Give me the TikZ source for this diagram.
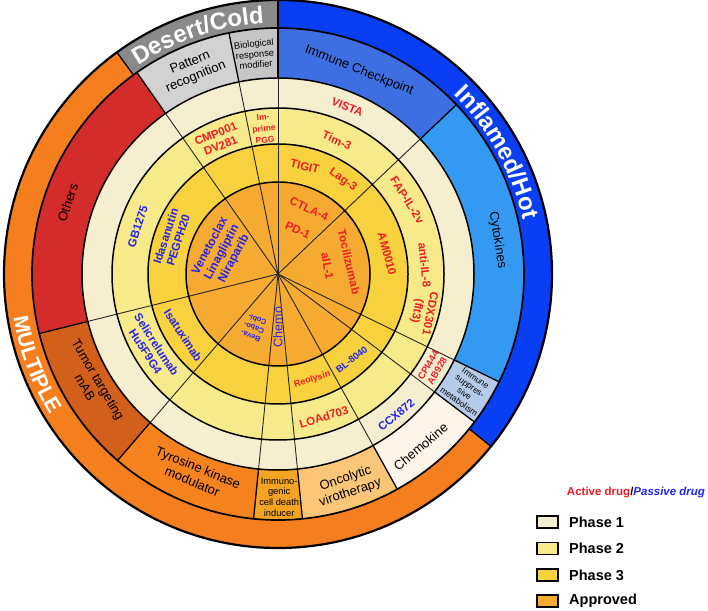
\documentclass[tikz,border=0pt]{standalone}
\usepackage{fontspec}
\setmainfont{Liberation Sans}
\usetikzlibrary{decorations.text}

\definecolor{bgray}{HTML}{8A8A8A}
\definecolor{bblue}{HTML}{0A3EF2}
\definecolor{borange}{HTML}{F57E1E}
\definecolor{cpat}{HTML}{D2D2D2}
\definecolor{cbio}{HTML}{C6C6C6}
\definecolor{cchk}{HTML}{3D6FE3}
\definecolor{ccyt}{HTML}{3399F2}
\definecolor{csup}{HTML}{B6CBEA}
\definecolor{cchm}{HTML}{FDF4EA}
\definecolor{conc}{HTML}{FBC677}
\definecolor{cicd}{HTML}{F5A421}
\definecolor{ctyr}{HTML}{F7831E}
\definecolor{ctum}{HTML}{D2601A}
\definecolor{coth}{HTML}{D42C2A}
\definecolor{ph1}{HTML}{F5EFD0}
\definecolor{ph2}{HTML}{F7EA8A}
\definecolor{ph3}{HTML}{F8D13E}
\definecolor{phA}{HTML}{F5AA32}
\definecolor{actred}{HTML}{EE1D24}
\definecolor{pasblue}{HTML}{2424EE}

\newcommand{\annsec}[5]{\fill[#1] (#2:#4) arc[start angle=#2,end angle=#3,radius=#4] -- (#3:#5) arc[start angle=#3,end angle=#2,radius=#5] -- cycle;}
\newcommand{\bandfont}{\fontsize{24}{24}\selectfont\bfseries}
\newcommand{\multfont}{\fontsize{21}{21}\selectfont\bfseries}

\tikzset{
 drug/.style={font=\bfseries\fontsize{11.5}{13}\selectfont, align=center, inner sep=0pt},
 act/.style={drug, text=actred},
 pas/.style={drug, text=pasblue},
 catl/.style={font=\fontsize{13}{15}\selectfont, align=center, inner sep=0pt, text=black},
 catsm/.style={font=\fontsize{9.3}{10.6}\selectfont, align=center, inner sep=0pt, text=black},
 innerline/.style={draw=black!85, line width=0.9pt},
 catline/.style={draw=black, line width=1.3pt},
 ringline/.style={draw=black, line width=1.5pt},
 legbox/.style={draw=black, line width=1.6pt, minimum width=21pt, minimum height=12pt, inner sep=0pt},
 legtxt/.style={font=\bfseries\fontsize{14.5}{16}\selectfont, anchor=west, inner sep=0pt}
}

\begin{document}
\begin{tikzpicture}[x=1pt,y=1pt]
\useasboundingbox (0,0) rectangle (708,610);
\fill[white] (0,0) rectangle (708,610);
\begin{scope}[shift={(278,336)}]
 % outer band
 \annsec{bblue}{-39}{90}{246}{274}
 \annsec{bgray}{90}{126}{246}{274}
 \annsec{borange}{126}{321}{246}{274}
 % category ring
 \annsec{cchk}{43.5}{90}{196}{246}
 \annsec{cbio}{90}{101.5}{196}{246}
 \annsec{cpat}{101.5}{125}{196}{246}
 \annsec{coth}{125}{194}{196}{246}
 \annsec{ctum}{194}{229.3}{196}{246}
 \annsec{ctyr}{229.3}{264.3}{196}{246}
 \annsec{cicd}{264.3}{275.7}{196}{246}
 \annsec{conc}{275.7}{299}{196}{246}
 \annsec{cchm}{299}{323}{196}{246}
 \annsec{csup}{323}{334}{196}{246}
 \annsec{ccyt}{-26}{43.5}{196}{246}
 % phase rings
 \fill[ph1] (0,0) circle[radius=196];
 \fill[ph2] (0,0) circle[radius=166];
 \fill[ph3] (0,0) circle[radius=130];
 \fill[phA] (0,0) circle[radius=92];
 % radial lines
 \foreach \a in {43.5,90,101.5,125,194,229.3,264.3,275.7,299,323,334}{
   \draw[innerline] (0,0) -- (\a:196);
   \draw[catline] (\a:196) -- (\a:246);
 }
 \foreach \a in {90,126,321}{ \draw[catline] (\a:246) -- (\a:274); }
 % circles
 \draw[ringline] (0,0) circle[radius=92];
 \draw[ringline] (0,0) circle[radius=130];
 \draw[ringline] (0,0) circle[radius=166];
 \draw[ringline] (0,0) circle[radius=196];
 \draw[ringline, line width=1.7pt] (0,0) circle[radius=246];
 \draw[draw=black, line width=2.2pt] (0,0) circle[radius=274];
 % band texts
 \path[decorate, decoration={text along path, text color=white, text align=center, text={|\bandfont|Desert/Cold}}] (135:251) arc[start angle=135, end angle=82, radius=251];
 \path[decorate, decoration={text along path, text color=white, text align=center, text={|\bandfont|Inflamed/Hot}}] (62:251) arc[start angle=62, end angle=-4, radius=251];
 \path[decorate, decoration={text along path, text color=white, text align=center, text={|\multfont|MULTIPLE}}] (178:268) arc[start angle=178, end angle=223, radius=268];
 % category labels
 \node[catl, rotate=22.6] (pattern) at (112.6:221) {Pattern\\recognition};
 \node[catsm, rotate=6] (biomod) at (96:221) {Biological\\response\\modifier};
 \node[catl, rotate=-21.7] (checkpoint) at (68.3:219) {Immune Checkpoint};
 \node[catl, rotate=-81] (cytokines) at (8.8:222) {Cytokines};
 \node[catsm, font=\fontsize{8.5}{9.6}\selectfont, rotate=-35] (immsupp) at (-31.5:222) {Immune\\suppres-\\sive\\metabolism};
 \node[catl, rotate=39.6] (chemokine) at (-50.4:224) {Chemokine};
 \node[catl, rotate=18.3] (oncolytic) at (-71.7:223) {Oncolytic\\virotherapy};
 \node[catsm] (icd) at (-89.7:223) {Immuno-\\genic\\cell death\\inducer};
 \node[catl, rotate=-22.4] (tyrosine) at (247.6:217) {Tyrosine kinase\\modulator};
 \node[catl, rotate=-59.6] (tumor) at (210.4:216) {Tumor targeting\\mAB};
 \node[catl, rotate=71.3] (others) at (161.3:222) {Others};
 % active drugs
 \node[act, rotate=-22.5] (vista) at (67.5:181) {VISTA};
 \node[act, rotate=-24] (tim3) at (66.2:146) {Tim-3};
 \node[act, rotate=-14] (tigit) at (76:111) {TIGIT};
 \node[act, rotate=-35] (lag3) at (55.3:114) {Lag-3};
 \node[act, rotate=-25] (ctla4) at (64.5:72) {CTLA-4};
 \node[act, rotate=-25] (pd1) at (65.6:48) {PD-1};
 \node[act, rotate=-77] (toci) at (9.6:72) {Tocilizumab};
 \node[act, rotate=-80] (ail1) at (9:50) {aIL-1};
 \node[act, rotate=-75] (am0010) at (10.4:111) {AM0010};
 \node[act, rotate=-58] (fap) at (29.8:149) {FAP-IL-2v};
 \node[act, rotate=-84] (antiil8) at (3.5:147) {anti-IL-8};
 \node[act, rotate=-101] (cdx) at (-14.8:150) {CDX301\\(flt3)};
 \node[act, font=\bfseries\fontsize{9.5}{10.5}\selectfont, rotate=59] (cpi) at (-31.3:181) {CPI444\\AB928};
 \node[act, font=\bfseries\fontsize{9}{10}\selectfont, rotate=17] (reolysin) at (-72:111) {Reolysin};
 \node[act, rotate=17] (load703) at (-72.2:150) {LOAd703};
 \node[act, rotate=22] (cmp) at (114:147) {CMP001\\DV281};
 \node[act, font=\bfseries\fontsize{8.5}{11.5}\selectfont, rotate=5] (imprime) at (95.5:146) {Im-\\prime\\PGG};
 % passive drugs
 \node[pas, rotate=40] (ccx) at (-50:184) {CCX872};
 \node[pas, font=\bfseries\fontsize{9.5}{11}\selectfont, rotate=38] (bl8040) at (-49.3:113) {BL-8040};
 \node[pas, font=\fontsize{12.5}{14}\selectfont, rotate=90] (chemo) at (-90:53) {Chemo};
 \node[pas, font=\bfseries\fontsize{7.5}{9}\selectfont, rotate=158] (beva) at (246:59) {Beva-\\Cabo-\\Cobi-};
 \node[pas, rotate=-57] (isatux) at (212.9:113) {Isatuximab};
 \node[pas, rotate=-57] (selic) at (210.3:147) {Selicrelumab\\Hu5F9G4};
 \node[pas, rotate=72] (gb) at (161.4:148) {GB1275};
 \node[pas, rotate=72] (idas) at (161.4:112) {Idasanutin\\PEGPH20};
 \node[pas, font=\bfseries\fontsize{12}{13.5}\selectfont, rotate=62] (vene) at (159:60) {Venetoclax\\Linagliptin\\Niraparib};
\end{scope}
% legend
\node[font=\bfseries\fontsize{11.5}{13}\selectfont, inner sep=0pt] (legtitle) at (636,117) {\textcolor{actred}{Active drug}/\textcolor{pasblue}{\itshape Passive drug}};
\node[legbox, fill=ph1] (lb1) at (547.5,88) {};
\node[legbox, fill=ph2] (lb2) at (547.5,61.5) {};
\node[legbox, fill=ph3] (lb3) at (547.5,35) {};
\node[legbox, fill=phA] (lb4) at (547.5,9) {};
\node[legtxt] (lt1) at (569,88) {Phase 1};
\node[legtxt] (lt2) at (569,61.5) {Phase 2};
\node[legtxt] (lt3) at (569,35) {Phase 3};
\node[legtxt] (lt4) at (569,9) {Approved};
\end{tikzpicture}
\end{document}
